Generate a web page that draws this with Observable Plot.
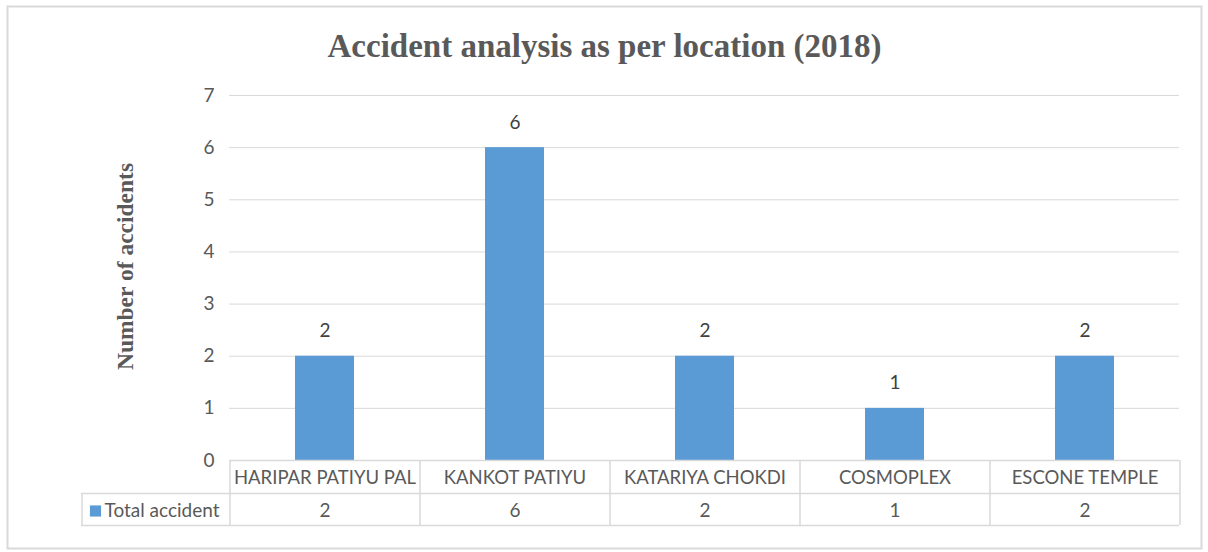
<!DOCTYPE html>
<html>
<head>
<meta charset="utf-8">
<script src="https://cdn.jsdelivr.net/npm/d3@7"></script>
<script src="https://cdn.jsdelivr.net/npm/@observablehq/plot@0.6"></script>
<style>
  html, body { margin: 0; padding: 0; background: #fff; }
  #chart svg { display: block; }
</style>
</head>
<body>
<div id="chart"></div>
<script>
const title = "Accident analysis as per location (2018)";
const yLabel = "Number of accidents";
const seriesName = "Total accident";
const locations = ["HARIPAR PATIYU PAL", "KANKOT PATIYU", "KATARIYA CHOKDI", "COSMOPLEX", "ESCONE TEMPLE"];
const accidents = [2, 6, 2, 1, 2];
const yTicks = [0, 1, 2, 3, 4, 5, 6, 7];

const data = locations.map((loc, i) => ({location: loc, value: accidents[i]}));

const W = 1208, H = 552;
const mL = 229, mR = 29, mT = 95, mB = 92;
const step = (W - mL - mR) / locations.length;   // table column width
const half = step / 2;
const row = 33;                                   // table row height
const grey = "#595959", lineC = "#d9d9d9", barC = "#5B9BD5";
const sans = "Lato, 'Open Sans', sans-serif";
const serif = "'Liberation Serif', 'DejaVu Serif', serif";
const fs = 19;

const plot = Plot.plot({
  width: W,
  height: H,
  marginLeft: mL,
  marginRight: mR,
  marginTop: mT,
  marginBottom: mB,
  style: {fontFamily: sans, fontSize: fs + "px", color: grey, background: "#fff"},
  x: {domain: locations, paddingInner: 0.69, paddingOuter: 0.345, axis: null},
  y: {domain: [0, 7], ticks: yTicks, axis: null},
  marks: [
    // outer chart border
    Plot.frame({stroke: lineC, strokeWidth: 2, insetLeft: -(mL - 7), insetTop: -(mT - 6), insetRight: -(1201 - (W - mR)), insetBottom: -(548 - (H - mB))}),
    // gridlines
    Plot.gridY(yTicks, {stroke: lineC, strokeOpacity: 1, strokeWidth: 1}),
    Plot.axisY({ticks: yTicks, tickSize: 0, tickPadding: 15, tickFormat: d => String(d), fontSize: fs, fill: grey, label: null}),
    // bars
    Plot.barY(data, {x: "location", y: "value", fill: barC}),
    // data labels
    Plot.text(data, {x: "location", y: "value", text: d => String(d.value), dy: -25, fontSize: fs, fill: "#404040", lineAnchor: "middle"}),
    // table: horizontal lines
    Plot.ruleY([0], {stroke: lineC, strokeWidth: 1.5}),
    Plot.ruleY([0], {dy: row, stroke: lineC, strokeWidth: 1.5, insetLeft: -148}),
    Plot.ruleY([0], {dy: 2 * row - 1, stroke: lineC, strokeWidth: 1.5, insetLeft: -148}),
    // table: vertical lines
    Plot.ruleX(locations, {x: d => d, y1: 0, y2: 0, dx: -half, insetBottom: -(2 * row - 1), stroke: lineC, strokeWidth: 1.5}),
    Plot.ruleX([locations[locations.length - 1]], {x: d => d, y1: 0, y2: 0, dx: half, insetBottom: -(2 * row - 1), stroke: lineC, strokeWidth: 1.5}),
    Plot.ruleX([locations[0]], {x: d => d, y1: 0, y2: 0, dx: -half - 148, insetTop: row, insetBottom: -(2 * row - 1), stroke: lineC, strokeWidth: 1.5}),
    // table: category labels and values
    Plot.text(data, {x: "location", frameAnchor: "bottom", dy: 18, text: "location", fontSize: 18.5, fill: grey, textAnchor: "middle", lineAnchor: "middle"}),
    Plot.text(data, {x: "location", frameAnchor: "bottom", dy: 50, text: d => String(d.value), fontSize: fs, fill: grey, textAnchor: "middle", lineAnchor: "middle"}),
    // legend key in table
    Plot.dot([seriesName], {frameAnchor: "bottom-left", dx: 95 - mL, dy: 50.5, symbol: "square", r: 6.3, fill: barC, stroke: null}),
    Plot.text([seriesName], {frameAnchor: "bottom-left", dx: 104 - mL, dy: 50, text: d => d, textAnchor: "start", lineAnchor: "middle", fontSize: fs, fill: grey}),
    // y-axis title
    Plot.text([yLabel], {frameAnchor: "left", dx: 125 - mL, dy: 266 - (mT + (H - mT - mB) / 2), text: d => d, rotate: -90, fontFamily: serif, fontWeight: "bold", fontSize: 23.5, fill: grey, textAnchor: "middle", lineAnchor: "middle"}),
    // chart title
    Plot.text([title], {frameAnchor: "top-left", dx: 604 - mL, dy: 46 - mT, text: d => d, fontFamily: serif, fontWeight: "bold", fontSize: 33, fill: grey, textAnchor: "middle", lineAnchor: "middle"})
  ]
});
document.getElementById("chart").appendChild(plot);
</script>
</body>
</html>
